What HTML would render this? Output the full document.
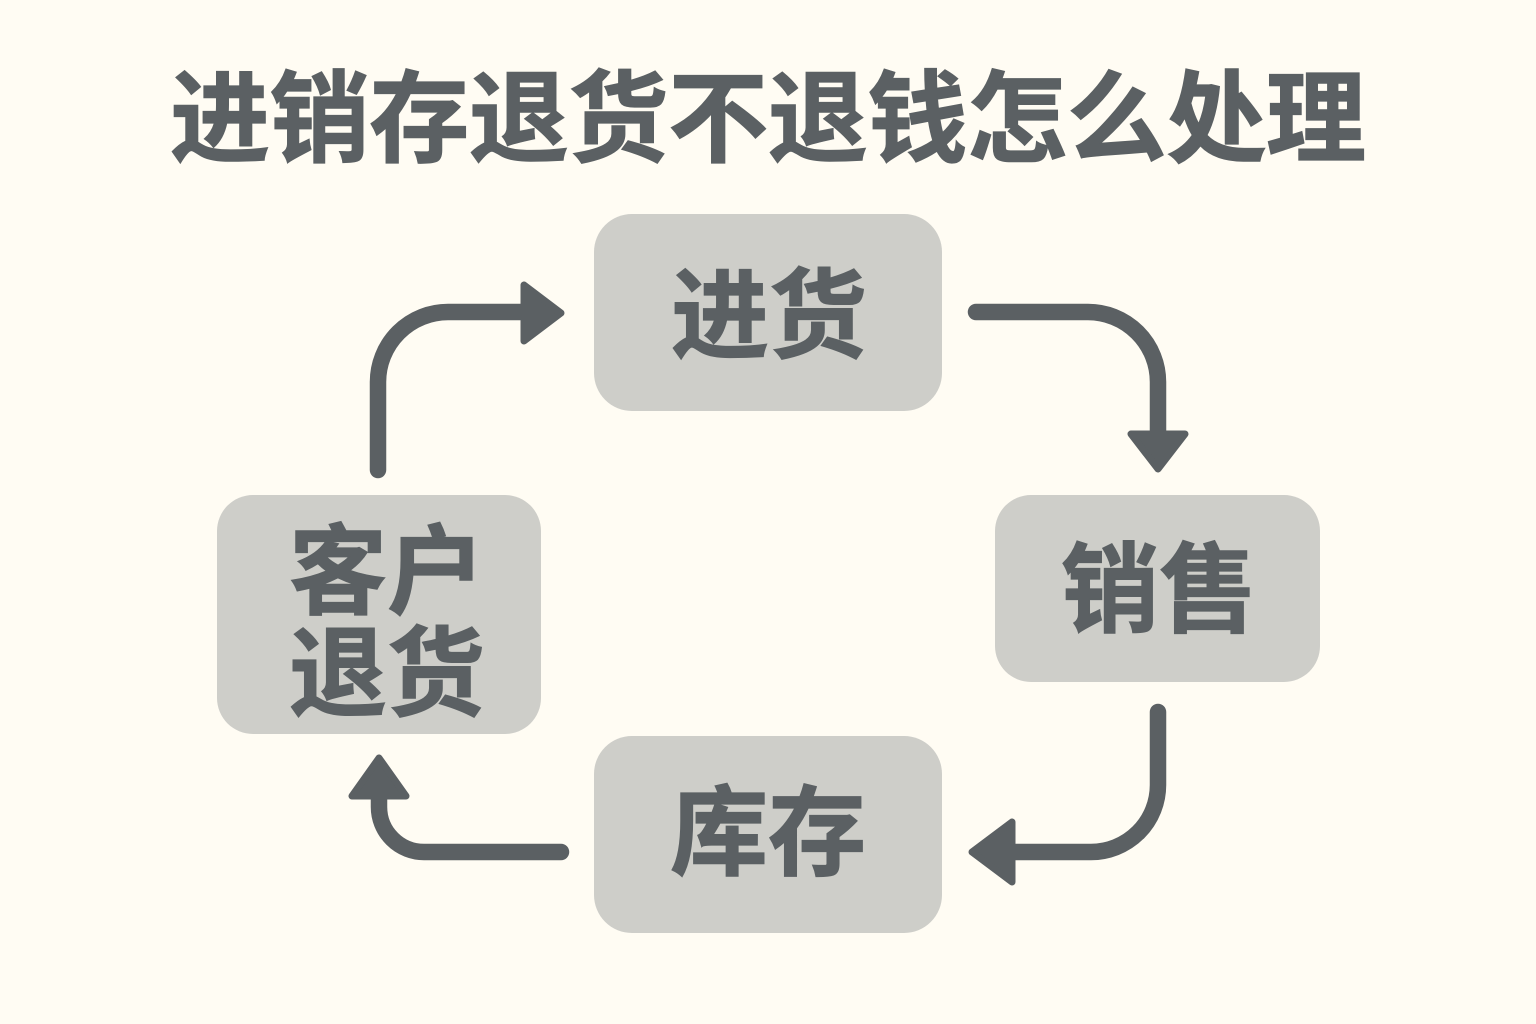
<!DOCTYPE html>
<html>
<head>
<meta charset="utf-8">
<style>
html,body{margin:0;padding:0;background:#fffcf3;}
svg{display:block;}
text{font-family:"Liberation Sans","Noto Sans CJK SC",sans-serif;font-weight:700;fill:#5b6063;stroke:#5b6063;stroke-width:1.2;stroke-linejoin:miter;text-anchor:middle;}
</style>
</head>
<body>
<svg width="1536" height="1024" viewBox="0 0 1536 1024" xmlns="http://www.w3.org/2000/svg">
<rect width="1536" height="1024" fill="#fffcf3"/>
<text x="768" y="154" font-size="100" textLength="1196" lengthAdjust="spacing">进销存退货不退钱怎么处理</text>
<g fill="#cecec9">
<rect x="594" y="214" width="348" height="197" rx="38"/>
<rect x="995" y="495" width="325" height="187" rx="36"/>
<rect x="594" y="736" width="348" height="197" rx="38"/>
<rect x="217" y="495" width="324" height="239" rx="36"/>
</g>
<text x="769" y="350" font-size="98">进货</text>
<text x="1159" y="624" font-size="98">销售</text>
<text x="768" y="867" font-size="98">库存</text>
<text x="387" y="606" font-size="98">客户</text>
<text x="387" y="708" font-size="98">退货</text>
<g fill="none" stroke="#5b6063" stroke-width="16.5" stroke-linecap="round">
<path d="M976 312H1088A70 70 0 0 1 1158 382V436"/>
<path d="M1158 712V785A67 67 0 0 1 1091 852H1010"/>
<path d="M561 852H424A45 45 0 0 1 379 807V790"/>
<path d="M378 470V382A70 70 0 0 1 448 312H525"/>
</g>
<g fill="#5b6063" stroke="#5b6063" stroke-width="7" stroke-linejoin="round">
<path d="M1131 434H1185L1158 469Z"/>
<path d="M1012 822V882L972 852Z"/>
<path d="M352 796H406L379 758Z"/>
<path d="M524 285V341L561 313Z"/>
</g>
</svg>
</body>
</html>
